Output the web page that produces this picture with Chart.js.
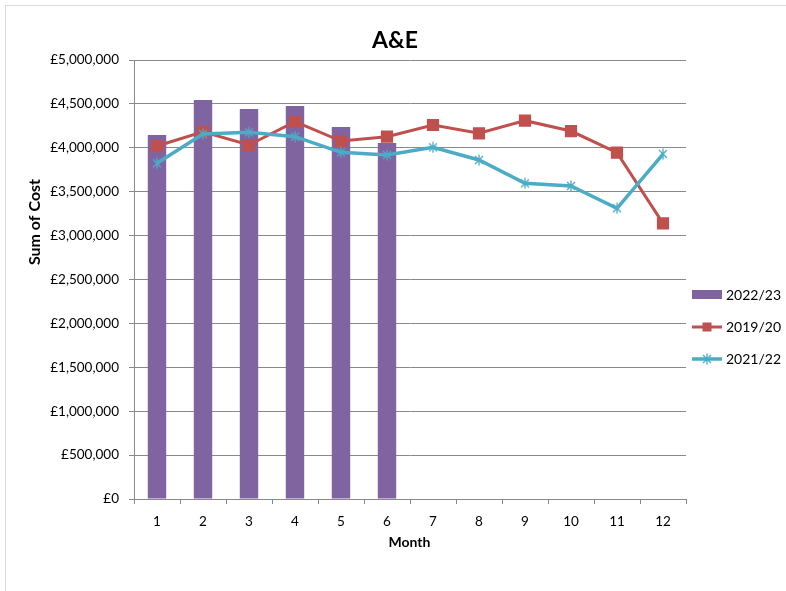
<!DOCTYPE html>
<html>
<head>
<meta charset="utf-8">
<script src="https://cdn.jsdelivr.net/npm/chart.js@4.4.0/dist/chart.umd.min.js"></script>
<style>
  html, body { margin: 0; padding: 0; background: #fff; }
  #frame { position: absolute; left: 5px; top: 5px; width: 800px; height: 600px; border: 1px solid #d9d9d9; }
  #wrap { position: absolute; left: 0; top: 0; width: 786px; height: 591px; }
</style>
</head>
<body>
<div id="frame"></div>
<div id="wrap"><canvas id="grafico"></canvas></div>
<script>
const meses = ["1", "2", "3", "4", "5", "6", "7", "8", "9", "10", "11", "12"];
const custo2223 = [4146000, 4544000, 4442000, 4476000, 4237000, 4055000];
const custo1920 = [4020000, 4183000, 4032000, 4297000, 4077000, 4127000, 4260000, 4165000, 4309000, 4191000, 3944000, 3140000];
const custo2122 = [3823000, 4157000, 4176000, 4127000, 3948000, 3918000, 4005000, 3861000, 3595000, 3565000, 3311000, 3929000];
const rotulos = ["2022/23", "2019/20", "2021/22"];

const roxo = "#8064A2", vermelho = "#C0504D", azul = "#4BACC6", cinza = "#898989";
const fonte = "Lato";

// marcador asterisco estilo Excel
function criarEstrela(cor, tam) {
    const c = document.createElement("canvas");
    c.width = c.height = tam;
    const g = c.getContext("2d");
    const m = tam / 2, r = tam / 2 - 0.5, d = r * 0.72;
    g.strokeStyle = cor;
    g.lineWidth = 1.3;
    g.beginPath();
    g.moveTo(m, m - r); g.lineTo(m, m + r);
    g.moveTo(m - d, m - d); g.lineTo(m + d, m + d);
    g.moveTo(m + d, m - d); g.lineTo(m - d, m + d);
    g.stroke();
    return c;
}
const estrela = criarEstrela(azul, 12);

const textos = {
    id: "textos",
    afterDraw(chart) {
        const ctx = chart.ctx;
        ctx.save();
        ctx.fillStyle = "#000";
        ctx.textAlign = "center";
        ctx.textBaseline = "alphabetic";
        ctx.font = `bold 23px ${fonte}`;
        ctx.fillText("A&E", 395, 48);
        ctx.font = `bold 14px ${fonte}`;
        ctx.fillText("Month", 409.5, 547);
        ctx.translate(40, 222);
        ctx.rotate(-Math.PI / 2);
        ctx.font = `bold 16px ${fonte}`;
        ctx.fillText("Sum of Cost", 0, 0);
        ctx.restore();

        // legenda
        const ds = chart.data.datasets;
        ctx.save();
        ctx.fillStyle = ds[0].backgroundColor;
        ctx.fillRect(692, 290, 30, 9);
        ctx.strokeStyle = ds[1].borderColor;
        ctx.lineWidth = 3;
        ctx.beginPath(); ctx.moveTo(692, 327); ctx.lineTo(722, 327); ctx.stroke();
        ctx.fillStyle = ds[1].borderColor;
        ctx.fillRect(707 - 4.5, 327 - 4.5, 9, 9);
        ctx.strokeStyle = ds[2].borderColor;
        ctx.lineWidth = 3.5;
        ctx.beginPath(); ctx.moveTo(692, 359); ctx.lineTo(722, 359); ctx.stroke();
        ctx.drawImage(estrela, 707 - 6, 359 - 6);
        ctx.fillStyle = "#000";
        ctx.font = `14px ${fonte}`;
        ctx.textBaseline = "middle";
        ctx.textAlign = "left";
        [295, 327, 359].forEach((y, i) => ctx.fillText(ds[i].label, 726, y));
        ctx.restore();
    }
};

const chart = new Chart(document.getElementById("grafico"), {
    type: "bar",
    data: {
        labels: meses,
        datasets: [
            {
                label: rotulos[0],
                data: custo2223,
                backgroundColor: roxo,
                borderColor: roxo,
                barPercentage: 0.4,
                categoryPercentage: 1,
                order: 3
            },
            {
                type: "line",
                label: rotulos[1],
                data: custo1920,
                borderColor: vermelho,
                backgroundColor: vermelho,
                borderWidth: 3,
                pointStyle: "rect",
                pointRadius: 6.5,
                pointHoverRadius: 6.5,
                tension: 0,
                order: 2
            },
            {
                type: "line",
                label: rotulos[2],
                data: custo2122,
                borderColor: azul,
                backgroundColor: azul,
                borderWidth: 3.5,
                pointStyle: estrela,
                tension: 0,
                order: 1
            }
        ]
    },
    options: {
        responsive: true,
        maintainAspectRatio: false,
        animation: false,
        layout: { padding: { left: 0, top: 60, right: 100, bottom: 0 } },
        plugins: {
            legend: { display: false },
            title: { display: false },
            tooltip: { enabled: false }
        },
        scales: {
            x: {
                afterFit: s => { s.height = 92; },
                grid: { drawOnChartArea: false, drawTicks: true, tickLength: 5, color: cinza, offset: true },
                border: { color: cinza },
                ticks: { color: "#000", font: { family: fonte, size: 13.5 }, padding: 10, maxRotation: 0 }
            },
            y: {
                min: 0,
                max: 5000000,
                afterFit: s => { s.width = 134; },
                grid: { color: cinza, tickLength: 5 },
                border: { color: cinza },
                ticks: {
                    stepSize: 500000,
                    color: "#000",
                    font: { family: fonte, size: 13.5 },
                    padding: 10,
                    callback: v => "£" + v.toLocaleString("en-GB")
                }
            }
        }
    },
    plugins: [textos]
});
</script>
</body>
</html>
